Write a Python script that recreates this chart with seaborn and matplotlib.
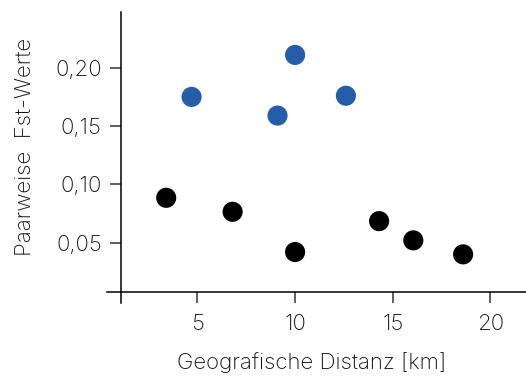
import numpy as np
import pandas as pd
import matplotlib
matplotlib.use("Agg")
import matplotlib.pyplot as plt
import matplotlib.ticker as mtick
import seaborn as sns

sns.set_style('white')
plt.rcParams['font.family'] = ['Inter', 'DejaVu Sans']

# data
dist_blue = [4.7, 10.0, 9.1, 12.6]
fst_blue = [0.175, 0.211, 0.159, 0.176]
dist_black = [3.4, 6.8, 10.0, 14.3, 16.05, 18.6]
fst_black = [0.0885, 0.0765, 0.042, 0.0685, 0.052, 0.040]

xticks = [5, 10, 15, 20]
yticks = [0.05, 0.10, 0.15, 0.20]

df = pd.concat([
    pd.DataFrame({'dist': dist_blue, 'fst': fst_blue, 'grp': 'blau'}),
    pd.DataFrame({'dist': dist_black, 'fst': fst_black, 'grp': 'schwarz'}),
])
cmap = {'blau': '#255DA8', 'schwarz': '#000000'}

fig = plt.figure(figsize=(5.26, 3.76), dpi=100)
ax = fig.add_axes([107/526, 73/376, 419/526, 291/376])

sns.scatterplot(data=df, x='dist', y='fst', hue='grp', palette=cmap,
                s=210, edgecolor='none', legend=False, ax=ax)

ax.set_xlim(0.37, 21.82)
ax.set_ylim(-0.0017, 0.2478)

ax.spines['top'].set_visible(False)
ax.spines['right'].set_visible(False)
ax.spines['left'].set_position(('data', 1.1))
ax.spines['bottom'].set_position(('data', 0.0077))
for s in ['left', 'bottom']:
    ax.spines[s].set_linewidth(1.1)
    ax.spines[s].set_color('black')

ax.set_xticks(xticks)
ax.set_yticks(yticks)
ax.yaxis.set_major_formatter(mtick.FuncFormatter(lambda v, p: f"{v:.2f}".replace('.', ',')))
ax.tick_params(axis='both', direction='out', length=8, width=1.1, color='#333333',
               labelsize=16, labelcolor='#111111', bottom=True, left=True)
ax.tick_params(axis='x', pad=8)
ax.tick_params(axis='y', pad=6)
for lab in ax.get_xticklabels() + ax.get_yticklabels():
    lab.set_fontweight('light')

ax.set_xlabel('Geografische Distanz [km]', fontsize=16, color='#111111', fontweight='light')
ax.set_ylabel('Paarweise  Fst-Werte', fontsize=16, color='#111111', fontweight='light')
ax.xaxis.set_label_coords(0.489, -0.206)
ax.xaxis.label.set_va('center')
ax.yaxis.set_label_coords(-0.196, 0.536)
ax.yaxis.label.set_va('center')

plt.savefig('out.png', dpi=100)
